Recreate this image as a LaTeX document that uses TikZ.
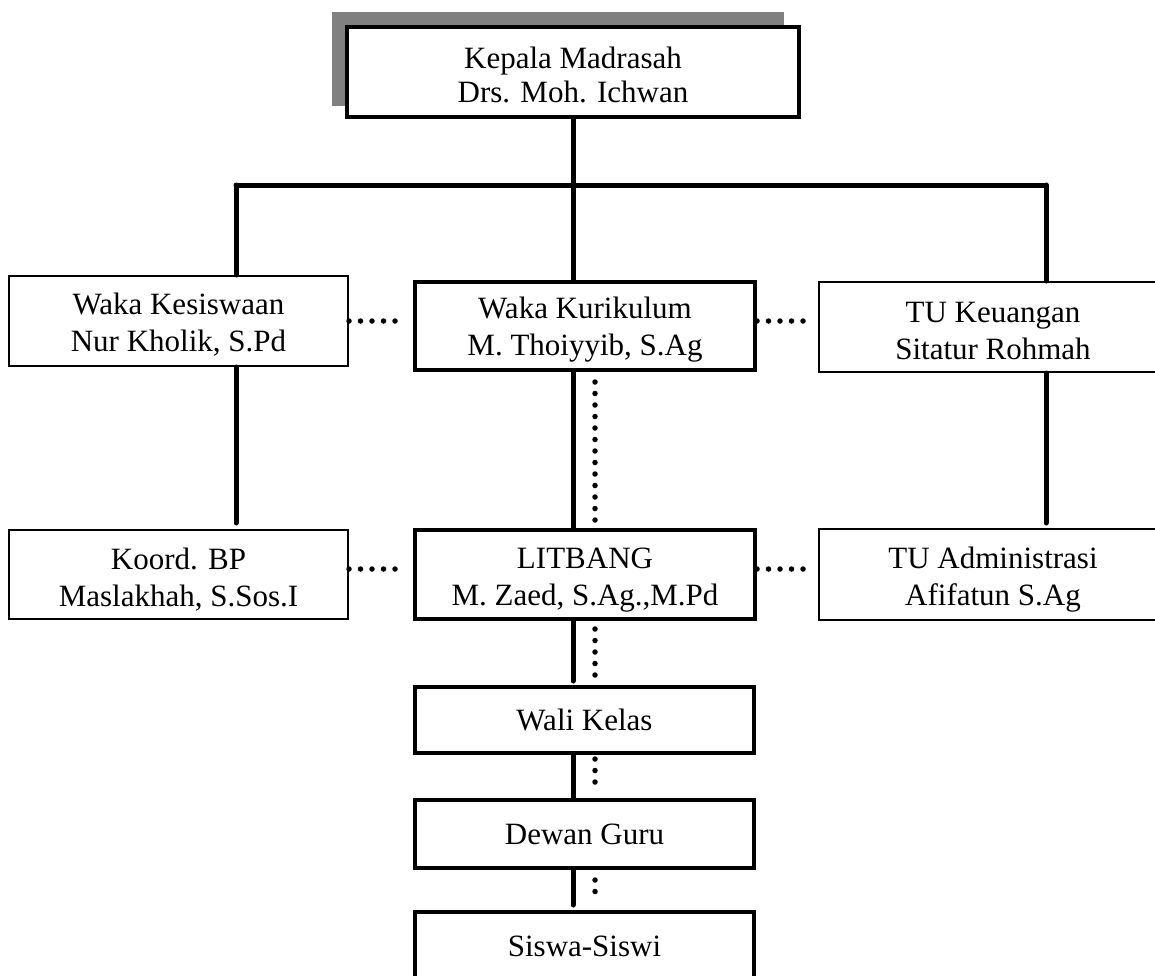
\documentclass[tikz,border=0pt]{standalone}
\usepackage{fontspec}
\setmainfont{Liberation Serif}
\newcommand\topstrut[1]{\rule{0pt}{#1}}
\begin{document}
\begin{tikzpicture}[x=1pt,y=-1pt,
  boxbase/.style={draw=black,fill=white,align=center,inner sep=0pt,
    font=\fontsize{31}{37}\selectfont},
  thickbox/.style={boxbase,line width=4pt},
  thinbox/.style={boxbase,line width=2pt},
  solidlink/.style={line width=5pt,line cap=round},
  dotlink/.style={line width=5.5pt,line cap=round,dash pattern=on 0pt off 11.5pt},
  shadowbox/.style={fill=black!50,draw=none}
]
\useasboundingbox (0,0) rectangle (1155,975);
\clip (0,0) rectangle (1155,975);

% shadow of top box
\fill[shadowbox] (332,12) rectangle (784,106);

% nodes
\node[thickbox,minimum width=452pt,minimum height=90pt,font=\fontsize{31}{34}\selectfont] (kepala) at (573,72) {\topstrut{28pt}Kepala Madrasah\\Drs. Moh. Ichwan};

\node[thinbox,minimum width=339pt,minimum height=90pt] (wk) at (178.5,321) {\topstrut{29pt}Waka Kesiswaan\\Nur Kholik, S.Pd};
\node[thickbox,minimum width=340pt,minimum height=88pt] (wkur) at (585,326) {\topstrut{29pt}Waka Kurikulum\\M. Thoiyyib, S.Ag};
\node[thinbox,minimum width=348pt,minimum height=90pt] (tuk) at (993,327) {\topstrut{29pt}TU Keuangan\\Sitatur Rohmah};

\node[thinbox,minimum width=339pt,minimum height=89pt] (kbp) at (178.5,574.5) {\topstrut{31pt}Koord. BP\\Maslakhah, S.Sos.I};
\node[thickbox,minimum width=340pt,minimum height=89pt] (lit) at (585,574.5) {\topstrut{31pt}LITBANG\\M. Zaed, S.Ag.,M.Pd};
\node[thinbox,minimum width=348pt,minimum height=91pt] (tua) at (993,574.5) {\topstrut{31pt}TU Administrasi\\Afifatun S.Ag};

\node[thickbox,minimum width=339pt,minimum height=66pt] (wali) at (584.5,720) {Wali Kelas};
\node[thickbox,minimum width=339pt,minimum height=68pt] (dewan) at (584.5,834) {Dewan Guru};
\node[thickbox,minimum width=339pt,minimum height=68pt] (siswa) at (584.5,946) {Siswa-Siswi};

% bus coordinates
\coordinate (busc) at (573,185);
\coordinate (busl) at (236,185);
\coordinate (busr) at (1046,185);
\coordinate (sx) at (573,0);
\coordinate (dx) at (595,0);
\coordinate (r1) at (0,321);
\coordinate (r2) at (0,569);

% top connectors
\draw[solidlink] (kepala.south -| sx) -- (busc);
\draw[solidlink] (busl) -- (busr);
\draw[solidlink] (busl) -- (busl |- wk.north);
\draw[solidlink] (busc) -- (busc |- wkur.north);
\draw[solidlink] (busr) -- (busr |- tuk.north);

% left and right columns
\draw[solidlink,shorten >=6pt] (wk.south -| busl) -- (kbp.north -| busl);
\draw[solidlink,shorten >=5pt] (tuk.south -| busr) -- (tua.north -| busr);

% centre column: solid lines
\draw[solidlink] (wkur.south -| sx) -- (lit.north -| sx);
\draw[solidlink,shorten >=4pt] (lit.south -| sx) -- (wali.north -| sx);
\draw[solidlink] (wali.south -| sx) -- (dewan.north -| sx);
\draw[solidlink,shorten >=5pt] (dewan.south -| sx) -- (siswa.north -| sx);

% centre column: dotted lines
\draw[dotlink,shorten <=10pt] (wkur.south -| dx) -- (lit.north -| dx);
\draw[dotlink,shorten <=8pt] (lit.south -| dx) -- (wali.north -| dx);
\draw[dotlink,shorten <=4pt,shorten >=10pt] (wali.south -| dx) -- (dewan.north -| dx);
\draw[dotlink,shorten <=10pt,shorten >=8pt] (dewan.south -| dx) -- (siswa.north -| dx);

% horizontal dotted lines
\draw[dotlink,shorten >=10pt] (wk.east |- r1) -- (wkur.west |- r1);
\draw[dotlink,shorten >=10pt] (wkur.east |- r1) -- (tuk.west |- r1);
\draw[dotlink,shorten >=10pt] (kbp.east |- r2) -- (lit.west |- r2);
\draw[dotlink,shorten >=10pt] (lit.east |- r2) -- (tua.west |- r2);
\end{tikzpicture}
\end{document}
